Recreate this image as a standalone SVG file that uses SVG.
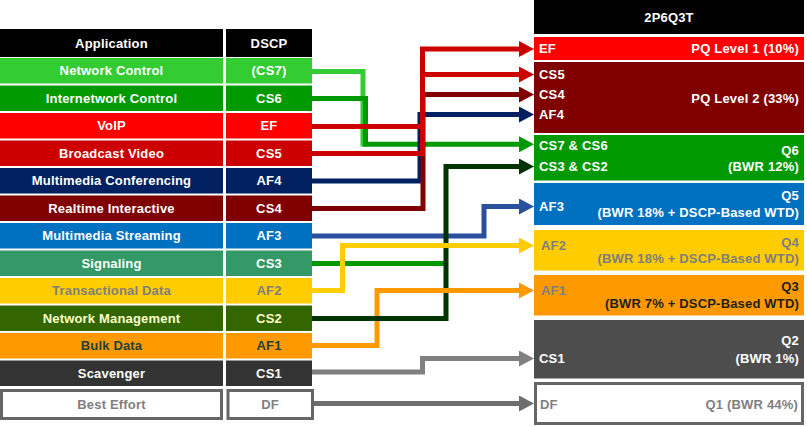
<svg xmlns="http://www.w3.org/2000/svg" width="807" height="427" viewBox="0 0 807 427">
<style>
text{font-family:"Liberation Sans",Arial,sans-serif;font-weight:bold;font-size:13px;fill:#fff;letter-spacing:0.18px}
.c{text-anchor:middle}
.r{text-anchor:end}
.g{fill:#7f7f7f}
.cl{fill:none;stroke-width:5;stroke-linejoin:miter}
</style>
<defs>
<marker id="aRed" markerUnits="userSpaceOnUse" markerWidth="15" markerHeight="16" refX="9" refY="8" orient="auto"><path d="M0,0 L15,8 L0,16 z" fill="#cc0000"/></marker>
<marker id="aDRed" markerUnits="userSpaceOnUse" markerWidth="15" markerHeight="16" refX="9" refY="8" orient="auto"><path d="M0,0 L15,8 L0,16 z" fill="#800000"/></marker>
<marker id="aNavy" markerUnits="userSpaceOnUse" markerWidth="15" markerHeight="16" refX="9" refY="8" orient="auto"><path d="M0,0 L15,8 L0,16 z" fill="#002060"/></marker>
<marker id="aGreen" markerUnits="userSpaceOnUse" markerWidth="15" markerHeight="16" refX="9" refY="8" orient="auto"><path d="M0,0 L15,8 L0,16 z" fill="#009900"/></marker>
<marker id="aDGreen" markerUnits="userSpaceOnUse" markerWidth="15" markerHeight="16" refX="9" refY="8" orient="auto"><path d="M0,0 L15,8 L0,16 z" fill="#003300"/></marker>
<marker id="aBlue" markerUnits="userSpaceOnUse" markerWidth="15" markerHeight="16" refX="9" refY="8" orient="auto"><path d="M0,0 L15,8 L0,16 z" fill="#2a4f9c"/></marker>
<marker id="aYellow" markerUnits="userSpaceOnUse" markerWidth="15" markerHeight="16" refX="9" refY="8" orient="auto"><path d="M0,0 L15,8 L0,16 z" fill="#ffcc00"/></marker>
<marker id="aOrange" markerUnits="userSpaceOnUse" markerWidth="15" markerHeight="16" refX="9" refY="8" orient="auto"><path d="M0,0 L15,8 L0,16 z" fill="#ff9900"/></marker>
<marker id="aGray" markerUnits="userSpaceOnUse" markerWidth="15" markerHeight="16" refX="9" refY="8" orient="auto"><path d="M0,0 L15,8 L0,16 z" fill="#808080"/></marker>
<marker id="aGray2" markerUnits="userSpaceOnUse" markerWidth="15" markerHeight="16" refX="9" refY="8" orient="auto"><path d="M0,0 L15,8 L0,16 z" fill="#6e6e6e"/></marker>
</defs>

<g id="header-left">
<rect x="0" y="29" width="223" height="28" fill="#000"/>
<rect x="226" y="29" width="86" height="28" fill="#000"/>
<text class="c" x="111.5" y="47.5">Application</text>
<text class="c" x="269" y="47.5">DSCP</text>
</g>

<g id="row-network-control">
<rect x="0" y="58" width="223" height="25.5" fill="#33cc33"/>
<rect x="226" y="58" width="86" height="25.5" fill="#33cc33"/>
<text class="c" x="111.5" y="75.3">Network Control</text>
<text class="c" x="269" y="75.3">(CS7)</text>
</g>
<g id="row-internetwork-control">
<rect x="0" y="85.5" width="223" height="25.5" fill="#009900"/>
<rect x="226" y="85.5" width="86" height="25.5" fill="#009900"/>
<text class="c" x="111.5" y="102.8">Internetwork Control</text>
<text class="c" x="269" y="102.8">CS6</text>
</g>
<g id="row-voip">
<rect x="0" y="113" width="223" height="25.5" fill="#ff0000"/>
<rect x="226" y="113" width="86" height="25.5" fill="#ff0000"/>
<text class="c" x="111.5" y="130.3">VoIP</text>
<text class="c" x="269" y="130.3">EF</text>
</g>
<g id="row-broadcast-video">
<rect x="0" y="140.5" width="223" height="25.5" fill="#cc0000"/>
<rect x="226" y="140.5" width="86" height="25.5" fill="#cc0000"/>
<text class="c" x="111.5" y="157.8">Broadcast Video</text>
<text class="c" x="269" y="157.8">CS5</text>
</g>
<g id="row-multimedia-conferencing">
<rect x="0" y="168" width="223" height="25.5" fill="#002060"/>
<rect x="226" y="168" width="86" height="25.5" fill="#002060"/>
<text class="c" x="111.5" y="185.3">Multimedia Conferencing</text>
<text class="c" x="269" y="185.3">AF4</text>
</g>
<g id="row-realtime-interactive">
<rect x="0" y="195.5" width="223" height="25.5" fill="#800000"/>
<rect x="226" y="195.5" width="86" height="25.5" fill="#800000"/>
<text class="c" x="111.5" y="212.8">Realtime Interactive</text>
<text class="c" x="269" y="212.8">CS4</text>
</g>
<g id="row-multimedia-streaming">
<rect x="0" y="223" width="223" height="25.5" fill="#0070c0"/>
<rect x="226" y="223" width="86" height="25.5" fill="#0070c0"/>
<text class="c" x="111.5" y="240.3">Multimedia Streaming</text>
<text class="c" x="269" y="240.3">AF3</text>
</g>
<g id="row-signaling">
<rect x="0" y="250.5" width="223" height="25.5" fill="#339966"/>
<rect x="226" y="250.5" width="86" height="25.5" fill="#339966"/>
<text class="c" x="111.5" y="267.8">Signaling</text>
<text class="c" x="269" y="267.8">CS3</text>
</g>
<g id="row-transactional-data">
<rect x="0" y="278" width="223" height="25.5" fill="#ffcc00"/>
<rect x="226" y="278" width="86" height="25.5" fill="#ffcc00"/>
<text class="c g" x="111.5" y="295.3">Transactional Data</text>
<text class="c g" x="269" y="295.3">AF2</text>
</g>
<g id="row-network-management">
<rect x="0" y="305.5" width="223" height="25.5" fill="#336600"/>
<rect x="226" y="305.5" width="86" height="25.5" fill="#336600"/>
<text class="c" x="111.5" y="322.8" style="fill:#ffffcc">Network Management</text>
<text class="c" x="269" y="322.8" style="fill:#ffffcc">CS2</text>
</g>
<g id="row-bulk-data">
<rect x="0" y="333" width="223" height="25.5" fill="#ff9900"/>
<rect x="226" y="333" width="86" height="25.5" fill="#ff9900"/>
<text class="c" x="111.5" y="350.3" style="fill:#1f3f3f">Bulk Data</text>
<text class="c" x="269" y="350.3" style="fill:#1f3f3f">AF1</text>
</g>
<g id="row-scavenger">
<rect x="0" y="360.5" width="223" height="25.5" fill="#333333"/>
<rect x="226" y="360.5" width="86" height="25.5" fill="#333333"/>
<text class="c" x="111.5" y="377.8">Scavenger</text>
<text class="c" x="269" y="377.8">CS1</text>
</g>
<g id="row-best-effort">
<rect x="1.5" y="390.5" width="220" height="28" fill="#fff" stroke="#666" stroke-width="3"/>
<rect x="228" y="390.5" width="84.5" height="28" fill="#fff" stroke="#666" stroke-width="3"/>
<text class="c g" x="111.5" y="409">Best Effort</text>
<text class="c g" x="270" y="409">DF</text>
</g>

<g id="queue-header">
<rect x="534" y="0" width="270" height="34" fill="#000"/>
<text class="c" x="669" y="22">2P6Q3T</text>
</g>
<g id="queue-pq1">
<rect x="534" y="37" width="270" height="23" fill="#ff0000"/>
<text x="539" y="53">EF</text>
<text class="r" x="799" y="53">PQ Level 1 (10%)</text>
</g>
<g id="queue-pq2">
<rect x="534" y="62" width="270" height="71" fill="#800000"/>
<text x="539" y="79">CS5</text>
<text x="539" y="99">CS4</text>
<text x="539" y="119">AF4</text>
<text class="r" x="799" y="103">PQ Level 2 (33%)</text>
</g>
<g id="queue-q6">
<rect x="534" y="135" width="270" height="45.5" fill="#009900"/>
<text x="539" y="149.5">CS7 &amp; CS6</text>
<text x="539" y="171">CS3 &amp; CS2</text>
<text class="r" x="799" y="155">Q6</text>
<text class="r" x="799" y="171">(BWR 12%)</text>
</g>
<g id="queue-q5">
<rect x="534" y="183" width="270" height="42" fill="#0070c0"/>
<text x="539" y="211">AF3</text>
<text class="r" x="799" y="200">Q5</text>
<text class="r" x="799" y="217">(BWR 18% + DSCP-Based WTD)</text>
</g>
<g id="queue-q4">
<rect x="534" y="230" width="270" height="40.5" fill="#ffcc00"/>
<text class="g" x="541" y="250">AF2</text>
<text class="r g" x="799" y="247">Q4</text>
<text class="r g" x="799" y="263">(BWR 18% + DSCP-Based WTD)</text>
</g>
<g id="queue-q3">
<rect x="534" y="275" width="270" height="40.5" fill="#ff9900"/>
<text class="g" x="541" y="295">AF1</text>
<text class="r" x="799" y="291" style="fill:#1f1f1f">Q3</text>
<text class="r" x="799" y="308" style="fill:#1f1f1f">(BWR 7% + DSCP-Based WTD)</text>
</g>
<g id="queue-q2">
<rect x="534" y="320" width="270" height="58.5" fill="#4d4d4d"/>
<text x="539" y="362.5">CS1</text>
<text class="r" x="799" y="345">Q2</text>
<text class="r" x="799" y="363">(BWR 1%)</text>
</g>
<g id="queue-q1">
<rect x="535.5" y="383.5" width="267" height="40" fill="#fff" stroke="#666" stroke-width="3"/>
<text class="g" x="540" y="408.5">DF</text>
<text class="r g" x="798" y="408.5">Q1 (BWR 44%)</text>
</g>

<g id="connectors">
<path class="cl" stroke="#33cc33" d="M312,71.5 H363 V146.5"/>
<path class="cl" stroke="#009900" d="M312,98.5 H365.5 V144.3 H528" marker-end="url(#aGreen)"/>
<path class="cl" stroke="#002060" d="M312,181 H420 V114.5 H528" marker-end="url(#aNavy)"/>
<path class="cl" stroke="#800000" d="M312,208.5 H423 V94.5 H528" marker-end="url(#aDRed)"/>
<path class="cl" stroke="#cc0000" d="M312,126.5 H422.5 V49 H528" marker-end="url(#aRed)"/>
<path class="cl" stroke="#cc0000" d="M312,153.5 H422.5 V74.5 H528" marker-end="url(#aRed)"/>
<path class="cl" stroke="#2a4f9c" d="M312,236 H484 V206.5 H528" marker-end="url(#aBlue)"/>
<path class="cl" stroke="#009900" d="M312,263.5 H446"/>
<path class="cl" stroke="#003300" d="M312,318.5 H446 V166.5 H528" marker-end="url(#aDGreen)"/>
<path class="cl" stroke="#ffcc00" d="M312,290.5 H342.5 V245.5 H528" marker-end="url(#aYellow)"/>
<path class="cl" stroke="#ff9900" d="M312,345.5 H377 V290.5 H528" marker-end="url(#aOrange)"/>
<path class="cl" stroke="#003300" d="M312,318.5 H420"/>
<path class="cl" stroke="#808080" d="M312,372 H422.5 V358.5 H528" marker-end="url(#aGray)"/>
<path class="cl" stroke="#6e6e6e" d="M314,403.5 H528" marker-end="url(#aGray2)"/>
</g>
</svg>
